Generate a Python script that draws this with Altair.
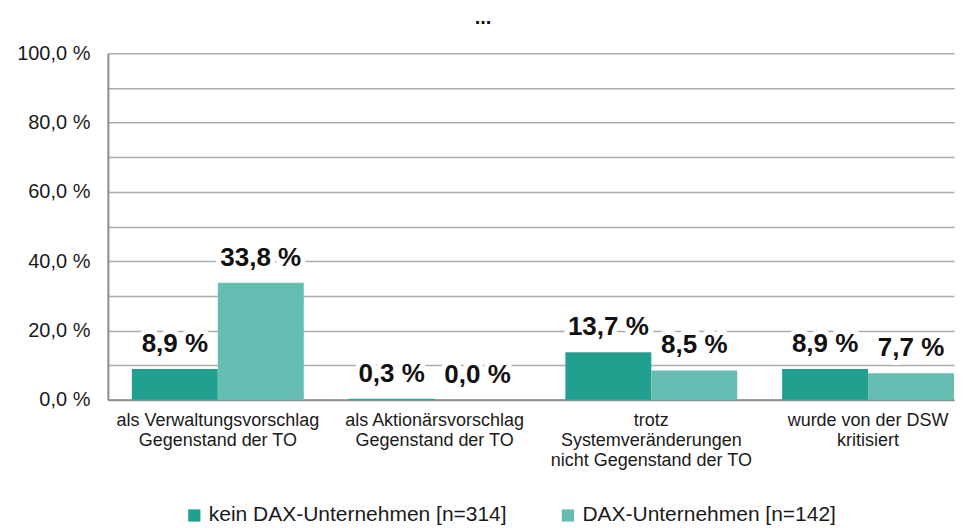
import altair as alt
import pandas as pd

categories = [
    "als Verwaltungsvorschlag|Gegenstand der TO",
    "als Aktionärsvorschlag|Gegenstand der TO",
    "trotz|Systemveränderungen|nicht Gegenstand der TO",
    "wurde von der DSW|kritisiert",
]
series = ["kein DAX-Unternehmen [n=314]", "DAX-Unternehmen [n=142]"]
kein_dax = [8.9, 0.3, 13.7, 8.9]
dax = [33.8, 0.0, 8.5, 7.7]
colors = ["#22a08f", "#66beb2"]
y_grid = [0, 10, 20, 30, 40, 50, 60, 70, 80, 90, 100]

rows = []
for c, a, b in zip(categories, kein_dax, dax):
    rows.append({"cat": c, "series": series[0], "value": a})
    rows.append({"cat": c, "series": series[1], "value": b})
df = pd.DataFrame(rows)

FONT = "Liberation Sans"

x = alt.X(
    "cat:N",
    sort=categories,
    scale=alt.Scale(paddingInner=0.207, paddingOuter=0.0553, align=1.0),
    axis=alt.Axis(
        title=None,
        labelAngle=0,
        labelExpr="split(datum.label, '|')",
        labelFontSize=18,
        labelLineHeight=20,
        labelPadding=12,
        labelLimit=0,
        labelColor="#1a1a1a",
        labelFont=FONT,
        ticks=False,
        domainColor="#8c8c8c",
        domainWidth=2,
        grid=False,
    ),
)
xo = alt.XOffset("series:N", sort=series, scale=alt.Scale(paddingInner=0, paddingOuter=0))
y = alt.Y(
    "value:Q",
    scale=alt.Scale(domain=[0, 100], nice=False),
    axis=alt.Axis(
        title=None,
        values=y_grid,
        labelExpr="datum.value % 20 == 0 ? replace(format(datum.value, '.1f'), '.', ',') + ' %' : ''",
        labelFontSize=20,
        labelFont=FONT,
        labelColor="#1a1a1a",
        labelPadding=18,
        labelOverlap=False,
        labelFlush=False,
        ticks=False,
        domainColor="#8c8c8c",
        domainWidth=2,
        gridColor="#ababab",
        gridWidth=1.5,
    ),
)

base = alt.Chart(df).transform_calculate(
    label="replace(format(datum.value, '.1f'), '.', ',') + ' %'"
)

bars = base.mark_bar().encode(
    x=x,
    xOffset=xo,
    y=y,
    color=alt.Color(
        "series:N",
        sort=series,
        scale=alt.Scale(domain=series, range=colors),
        legend=alt.Legend(
            title=None,
            orient="none",
            legendX=76,
            legendY=452,
            direction="horizontal",
            symbolType="square",
            symbolSize=150,
            symbolStrokeWidth=0,
            labelFontSize=21,
            labelFont=FONT,
            labelColor="#1a1a1a",
            labelLimit=0,
            labelOffset=4,
            columnPadding=50,
            padding=0,
        ),
    ),
)

halo = base.mark_text(
    fontSize=26, fontWeight="bold", font=FONT, baseline="alphabetic", dy=-17,
    stroke="white", strokeWidth=10, strokeJoin="round", color="white",
).encode(x=x, xOffset=xo, y=y, text="label:N")

labels = base.mark_text(
    fontSize=26, fontWeight="bold", font=FONT, baseline="alphabetic", dy=-17, color="#111111",
).encode(x=x, xOffset=xo, y=y, text="label:N")

chart = alt.layer(bars, halo, labels).properties(
    width=847,
    height=347,
    padding={"left": 8, "top": 0, "right": 0, "bottom": 0},
    title=alt.TitleParams(
        "...", fontSize=20, fontWeight="bold", font=FONT, color="#111111",
        anchor="middle", offset=15, dx=-48,
    ),
).configure_view(stroke=None)

chart.save("out.html", embed_options={"renderer": "svg", "actions": False})
